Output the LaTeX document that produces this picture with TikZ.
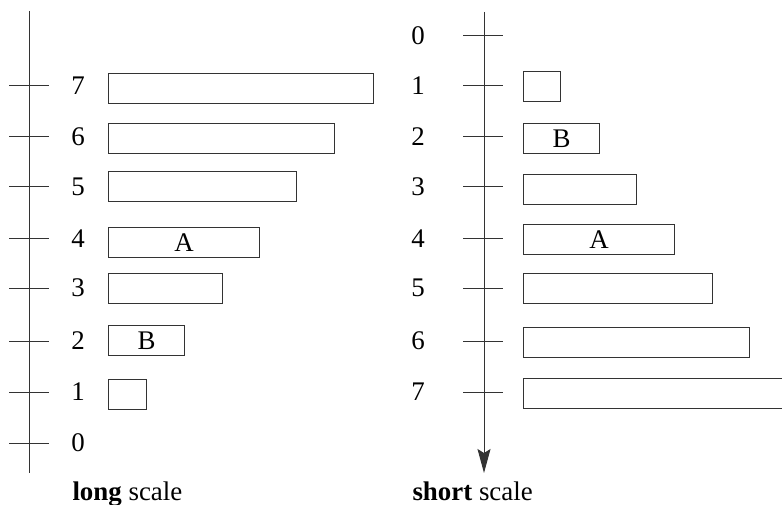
\documentclass[tikz,border=0pt]{standalone}
\usepackage{fontspec}
\setmainfont{Liberation Serif}
\usetikzlibrary{arrows.meta}
\begin{document}
\begin{tikzpicture}[x=1bp,y=-1bp,line width=1bp,
  axis/.style={draw=black!80},
  tickmark/.style={draw=black!80},
  bar/.style={draw=black!80,anchor=north west,inner sep=0pt,minimum height=30bp,
    font=\fontsize{27}{32}\selectfont},
  num/.style={font=\fontsize{27}{32}\selectfont,inner sep=0pt},
  caption/.style={font=\fontsize{27}{32}\selectfont,anchor=base west,inner sep=0pt}]
\useasboundingbox (0,0) rectangle (782,505);
\clip (0,0) rectangle (782,505);

% long scale: axis, ticks, numbers
\coordinate (Ltop) at (29,11);
\coordinate (Lbot) at (29,473);
\draw[axis] (Ltop) -- (Lbot);
\foreach \v/\y in {0/443,1/392,2/341,3/288,4/239,5/187,6/137,7/86}{
  \coordinate (Lt\v a) at (9,\y);
  \coordinate (Lt\v b) at (49,\y);
  \draw[tickmark] (Lt\v a) -- (Lt\v b);
  \node[num] (Ln\v) at (78,\y) {\v};
}
% long scale: bars
\node[bar,minimum width=265bp] (L7) at (108,73) {};
\node[bar,minimum width=226bp] (L6) at (108,123) {};
\node[bar,minimum width=188bp] (L5) at (108,171) {};
\node[bar,minimum width=151bp] (L4) at (108,227) {A};
\node[bar,minimum width=114bp] (L3) at (108,273) {};
\node[bar,minimum width=76bp]  (L2) at (108,325) {B};
\node[bar,minimum width=38bp]  (L1) at (108,379) {};
\node[caption] (Lcap) at (72,500) {\textbf{long} scale};

% short scale: axis, ticks, numbers
\coordinate (Rtop) at (484,12);
\coordinate (Rbot) at (484,473);
\draw[axis,-{Stealth[length=24bp,width=13bp,inset=4bp]}] (Rtop) -- (Rbot);
\foreach \v/\y in {0/36,1/86,2/137,3/187,4/239,5/288,6/341,7/392}{
  \coordinate (Rt\v a) at (463,\y);
  \coordinate (Rt\v b) at (503,\y);
  \draw[tickmark] (Rt\v a) -- (Rt\v b);
  \node[num] (Rn\v) at (418,\y) {\v};
}
% short scale: bars
\node[bar,minimum width=37bp]  (R1) at (523,71) {};
\node[bar,minimum width=76bp]  (R2) at (523,123) {B};
\node[bar,minimum width=113bp] (R3) at (523,174) {};
\node[bar,minimum width=151bp] (R4) at (523,224) {A};
\node[bar,minimum width=189bp] (R5) at (523,273) {};
\node[bar,minimum width=226bp] (R6) at (523,327) {};
\node[bar,minimum width=280bp] (R7) at (523,378) {};
\node[caption] (Rcap) at (412,500) {\textbf{short} scale};
\end{tikzpicture}
\end{document}
